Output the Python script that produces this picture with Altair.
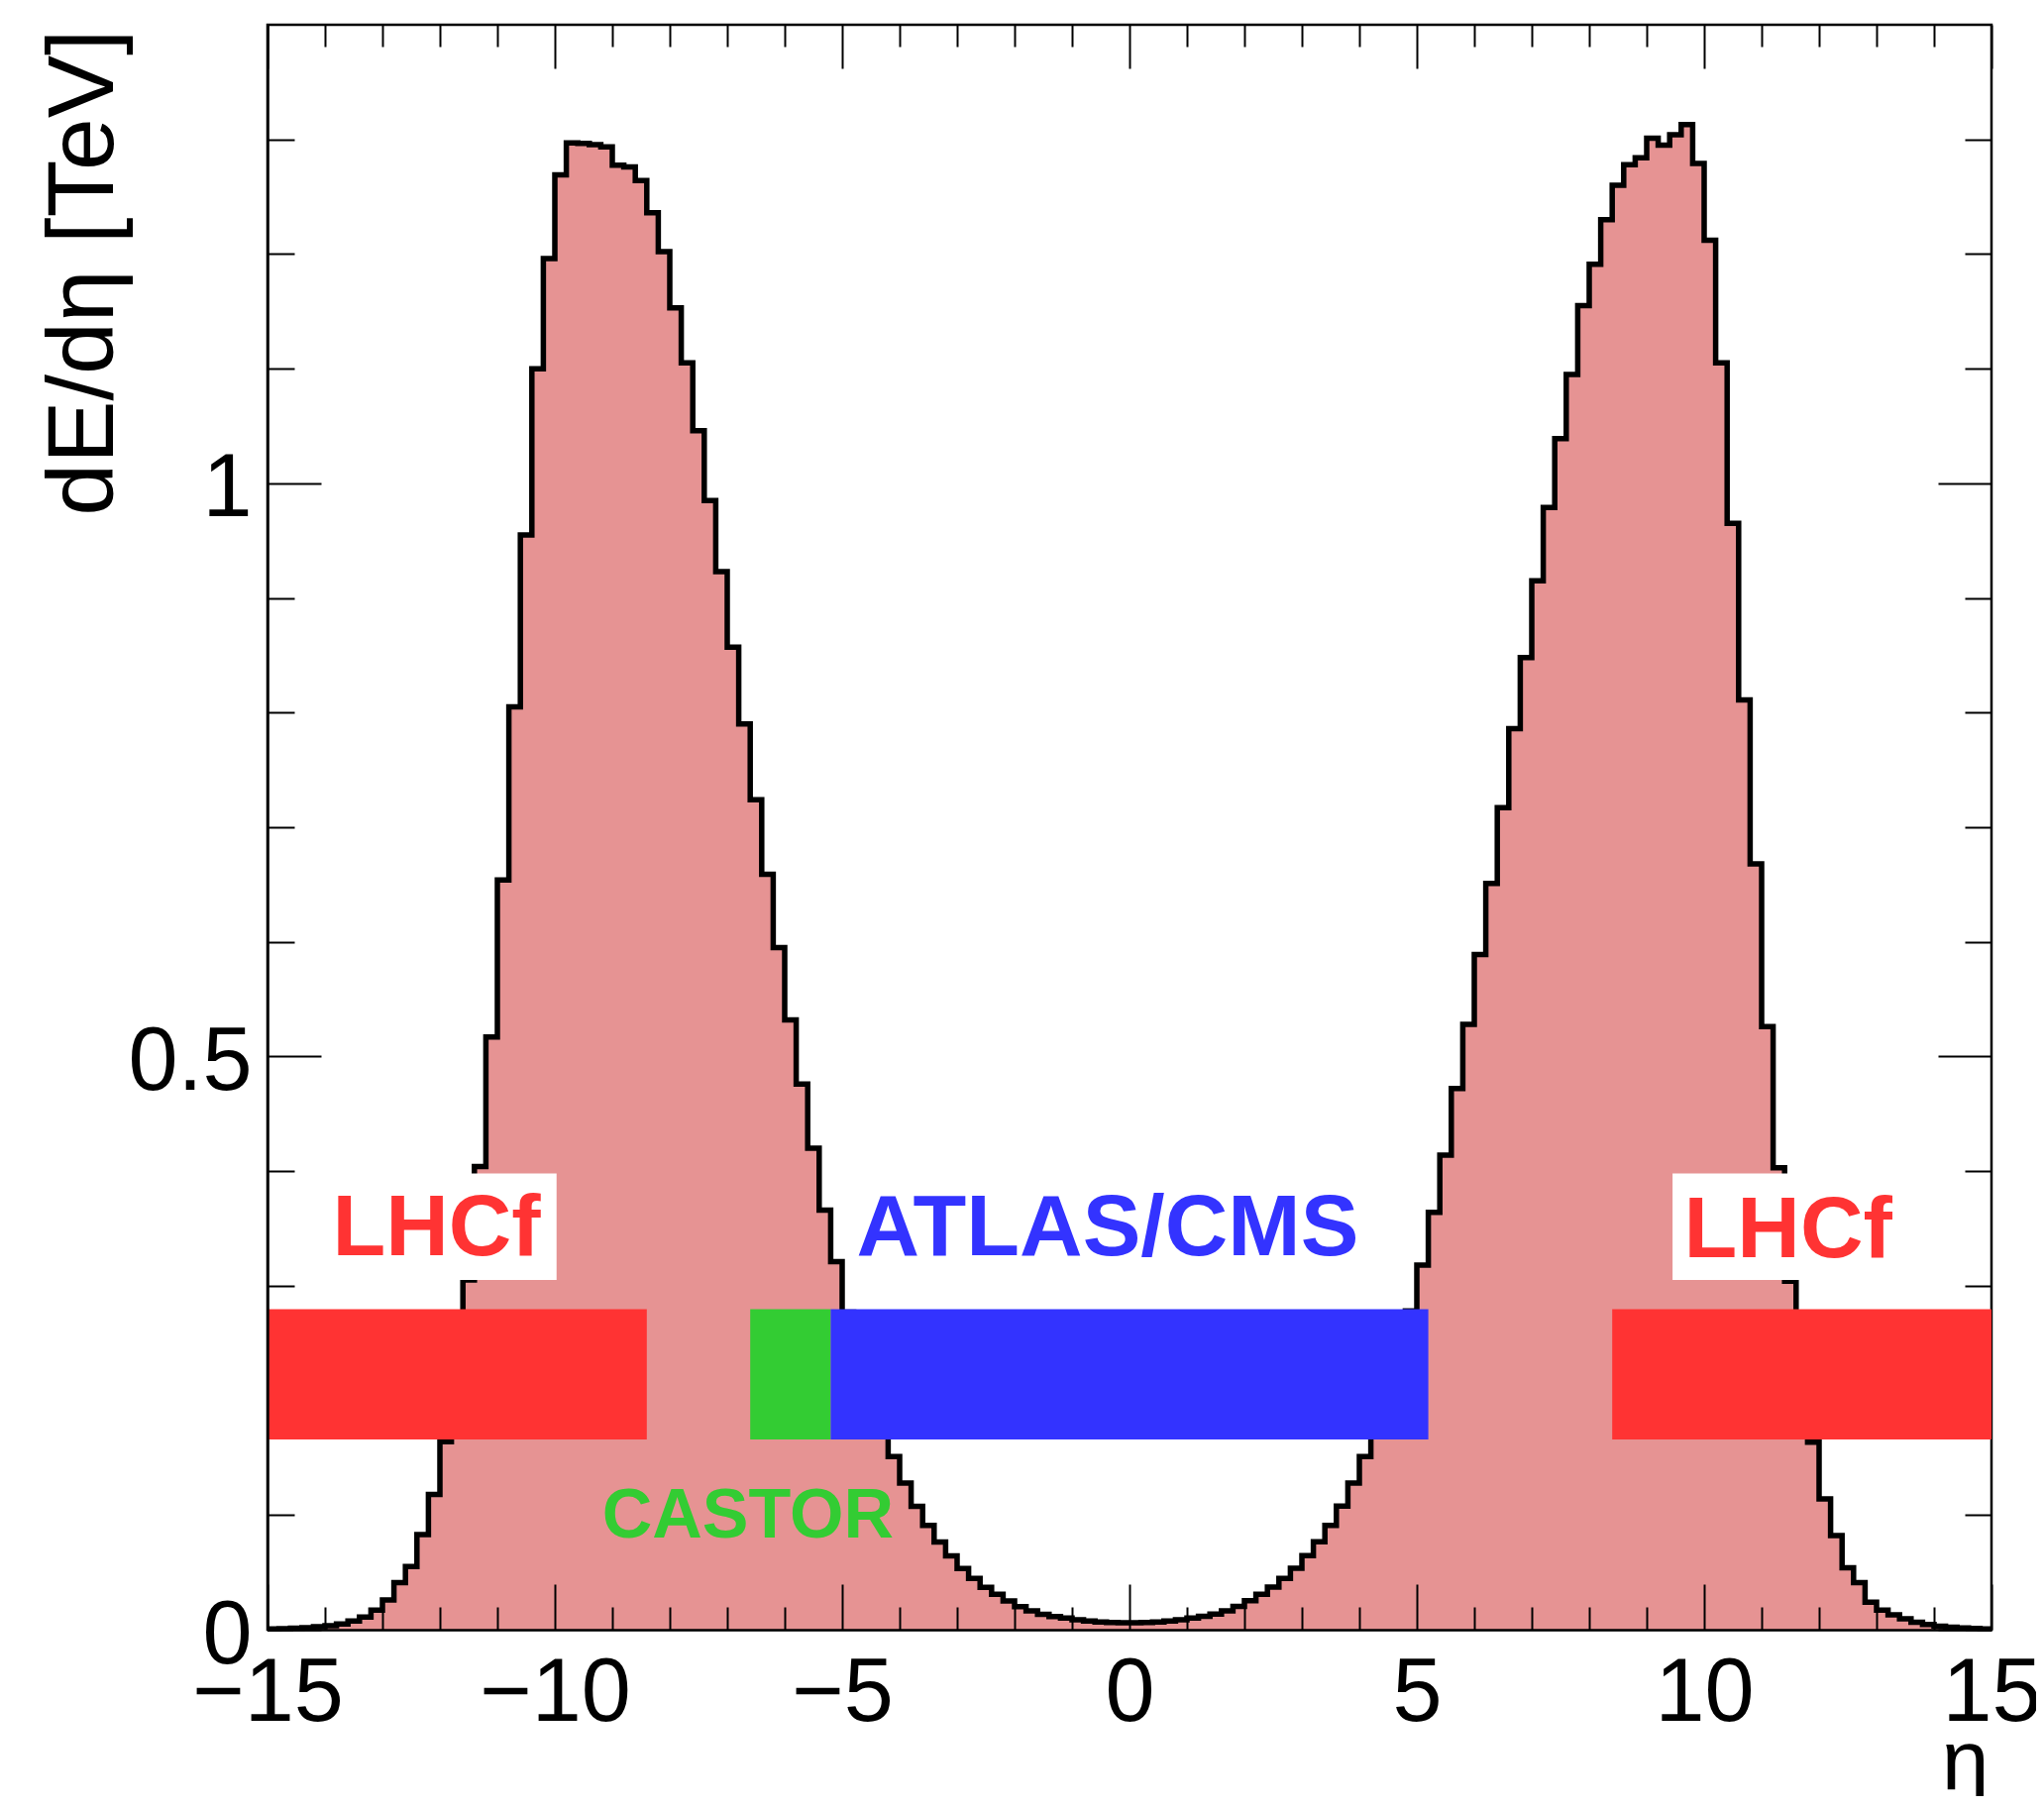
import altair as alt
import pandas as pd

# ---------------- data ----------------
BIN_WIDTH = 0.2
ETA_MIN, ETA_MAX = -15.0, 15.0
Y_MAX = 1.4

# dE/deta [TeV] per 0.2-wide bin, eta from -15.0 to 0.0
left_values = [
    0.0006, 0.0009, 0.0013, 0.0018, 0.0025, 0.0035, 0.0050, 0.0075, 0.011, 0.017,
    0.026, 0.041, 0.055, 0.083, 0.118, 0.164, 0.228, 0.305, 0.404, 0.517,
    0.654, 0.805, 0.955, 1.100, 1.196, 1.269, 1.297, 1.2965, 1.2955, 1.2935,
    1.2775, 1.276, 1.264, 1.236, 1.202, 1.153, 1.105, 1.046, 0.985, 0.923,
    0.857, 0.790, 0.724, 0.659, 0.595, 0.532, 0.476, 0.420, 0.366, 0.321,
    0.277, 0.242, 0.209, 0.178, 0.151, 0.128, 0.1075, 0.091, 0.0764, 0.0643,
    0.0533, 0.0447, 0.0369, 0.0309, 0.0251, 0.0202, 0.0164, 0.0135, 0.0115, 0.0101,
    0.0086, 0.0076, 0.0068, 0.0063, 0.0060,
]
# eta from 0.0 to 15.0
right_values = [
    0.0060, 0.0063, 0.0068, 0.0076, 0.0087, 0.0102, 0.0117, 0.0137, 0.0165, 0.0204,
    0.0252, 0.0310, 0.0371, 0.0448, 0.0535, 0.0645, 0.0766, 0.0910, 0.1078, 0.128,
    0.151, 0.178, 0.209, 0.243, 0.278, 0.318, 0.364, 0.414, 0.472, 0.528,
    0.589, 0.651, 0.717, 0.786, 0.848, 0.915, 0.979, 1.039, 1.095, 1.155,
    1.191, 1.230, 1.260, 1.278, 1.284, 1.301, 1.295, 1.304, 1.313, 1.279,
    1.212, 1.105, 0.965, 0.811, 0.668, 0.526, 0.403, 0.304, 0.227, 0.1635,
    0.114, 0.082, 0.054, 0.041, 0.024, 0.017, 0.013, 0.0095, 0.0065, 0.0045,
    0.0030, 0.0022, 0.0016, 0.0011, 0.0007,
]

# detector acceptance bands
det_names = ["LHCf", "CASTOR", "ATLAS/CMS", "LHCf"]
det_lo = [-15.0, -6.6, -5.2, 8.4]
det_hi = [-8.4, -5.2, 5.2, 15.0]
det_colors = ["#ff3333", "#33cc33", "#3333ff", "#ff3333"]
BAND_LO, BAND_HI = 0.166, 0.2795

# white boxes behind the LHCf labels
box_lo = [-14.15, 9.45]
box_hi = [-9.97, 13.31]
BOX_V_LO, BOX_V_HI = 0.305, 0.398

# text labels
label_text = ["LHCf", "ATLAS/CMS", "LHCf", "CASTOR"]
label_eta = [-12.06, -0.38, 11.46, -6.64]
label_v = [0.327, 0.327, 0.325, 0.080]
label_colors = ["#ff3333", "#3333ff", "#ff3333", "#33cc33"]
label_sizes = [88, 88, 88, 70]

# axis ticks
x_major = [-15, -10, -5, 0, 5, 10, 15]
x_minor = [v for v in range(-14, 15) if v % 5 != 0]
y_major = [0, 0.5, 1.0]
y_minor_left = [0.1, 0.3, 0.4, 0.6, 0.7, 0.8, 0.9, 1.1, 1.2, 1.3]

# ---------------- tables ----------------
values = left_values + right_values
edges = [round(ETA_MIN + i * BIN_WIDTH, 1) for i in range(len(values) + 1)]
hist = pd.DataFrame({"eta": edges, "dE": values + [values[-1]]})

det = pd.DataFrame({"name": det_names, "lo": det_lo, "hi": det_hi, "color": det_colors,
                    "vlo": [BAND_LO] * 4, "vhi": [BAND_HI] * 4})
boxes = pd.DataFrame({"lo": box_lo, "hi": box_hi,
                      "vlo": [BOX_V_LO] * 2, "vhi": [BOX_V_HI] * 2})
labels = pd.DataFrame({"text": label_text, "eta": label_eta, "v": label_v,
                       "color": label_colors, "size": label_sizes})

W, H = 1740, 1620
FONT = "Liberation Sans"

xscale = alt.Scale(domain=[ETA_MIN, ETA_MAX], nice=False, zero=False)
yscale = alt.Scale(domain=[0, Y_MAX], nice=False)


def tick_axis(orient, offset, vals, size):
    return alt.Axis(orient=orient, offset=offset, values=vals, tickSize=size,
                    ticks=True, labels=False, domain=False, grid=False,
                    tickColor="black", tickWidth=2, zindex=1)


# fill + label axes
fill = alt.Chart(hist).mark_area(interpolate="step-after", color="#e69393").encode(
    x=alt.X("eta:Q", scale=xscale, title="η",
            axis=alt.Axis(orient="bottom", values=x_major, format="~g",
                          ticks=False, tickSize=0, domain=True, domainColor="black",
                          domainWidth=2.5, grid=False, labelFont=FONT, labelFontSize=90,
                          labelColor="black", labelPadding=20, labelFlush=False,
                          labelOverlap=False, titleFont=FONT, titleFontSize=86,
                          titleFontWeight="normal", titleColor="black",
                          titleAnchor="end", titleAlign="right",
                          titleBaseline="alphabetic", titleX=W - 3, titleY=160,
                          zindex=1)),
    y=alt.Y("dE:Q", scale=yscale, title="dE/dη [TeV]",
            axis=alt.Axis(orient="left", values=y_major, format="~g",
                          ticks=False, tickSize=0, domain=True, domainColor="black",
                          domainWidth=2.5, grid=False, labelFont=FONT, labelFontSize=90,
                          labelColor="black", labelPadding=16, labelOffset=6,
                          labelFlush=False, labelOverlap=False, titleFont=FONT,
                          titleFontSize=95, titleFontWeight="normal",
                          titleColor="black", titleAngle=270, titleAlign="right",
                          titleBaseline="alphabetic", titleX=-157, titleY=4,
                          zindex=1)),
)

# outline, carries inward bottom/left major ticks
outline = alt.Chart(hist).mark_line(interpolate="step-after", color="black",
                                    strokeWidth=5.5).encode(
    x=alt.X("eta:Q", scale=xscale, title=None,
            axis=tick_axis("top", -H, x_major, 46)),
    y=alt.Y("dE:Q", scale=yscale, title=None,
            axis=tick_axis("right", -W, y_major, 54)),
)

# white boxes, carry inward bottom/left minor ticks
box_layer = alt.Chart(boxes).mark_rect(color="white").encode(
    x=alt.X("lo:Q", scale=xscale, title=None,
            axis=tick_axis("top", -H, x_minor, 23)),
    x2="hi:Q",
    y=alt.Y("vlo:Q", scale=yscale, title=None,
            axis=tick_axis("right", -W, y_minor_left, 27)),
    y2="vhi:Q",
)

# detector bands, carry inward top/right major ticks
bands = alt.Chart(det).mark_rect().encode(
    x=alt.X("lo:Q", scale=xscale, title=None,
            axis=tick_axis("bottom", -H, x_major, 44)),
    x2="hi:Q",
    y=alt.Y("vlo:Q", scale=yscale, title=None,
            axis=tick_axis("left", -W, y_major, 54)),
    y2="vhi:Q",
    color=alt.Color("color:N", scale=None),
)

# labels, carry inward top/right minor ticks
texts = alt.Chart(labels).mark_text(font=FONT, fontWeight="bold", align="center",
                                    baseline="alphabetic").encode(
    x=alt.X("eta:Q", scale=xscale, title=None,
            axis=tick_axis("bottom", -H, x_minor, 22)),
    y=alt.Y("v:Q", scale=yscale, title=None,
            axis=tick_axis("left", -W, y_minor_left, 27)),
    text="text:N",
    color=alt.Color("color:N", scale=None),
    size=alt.Size("size:Q", scale=None),
)

chart = alt.layer(fill, outline, box_layer, bands, texts).resolve_axis(
    x="independent", y="independent"
).properties(
    width=W, height=H,
    autosize=alt.AutoSizeParams(type="none"),
    padding={"left": 262, "top": 17, "right": 45, "bottom": 168},
    background="white",
).configure_view(stroke="black", strokeWidth=2.5)

chart.save("out.html", embed_options={"renderer": "svg", "actions": False})
